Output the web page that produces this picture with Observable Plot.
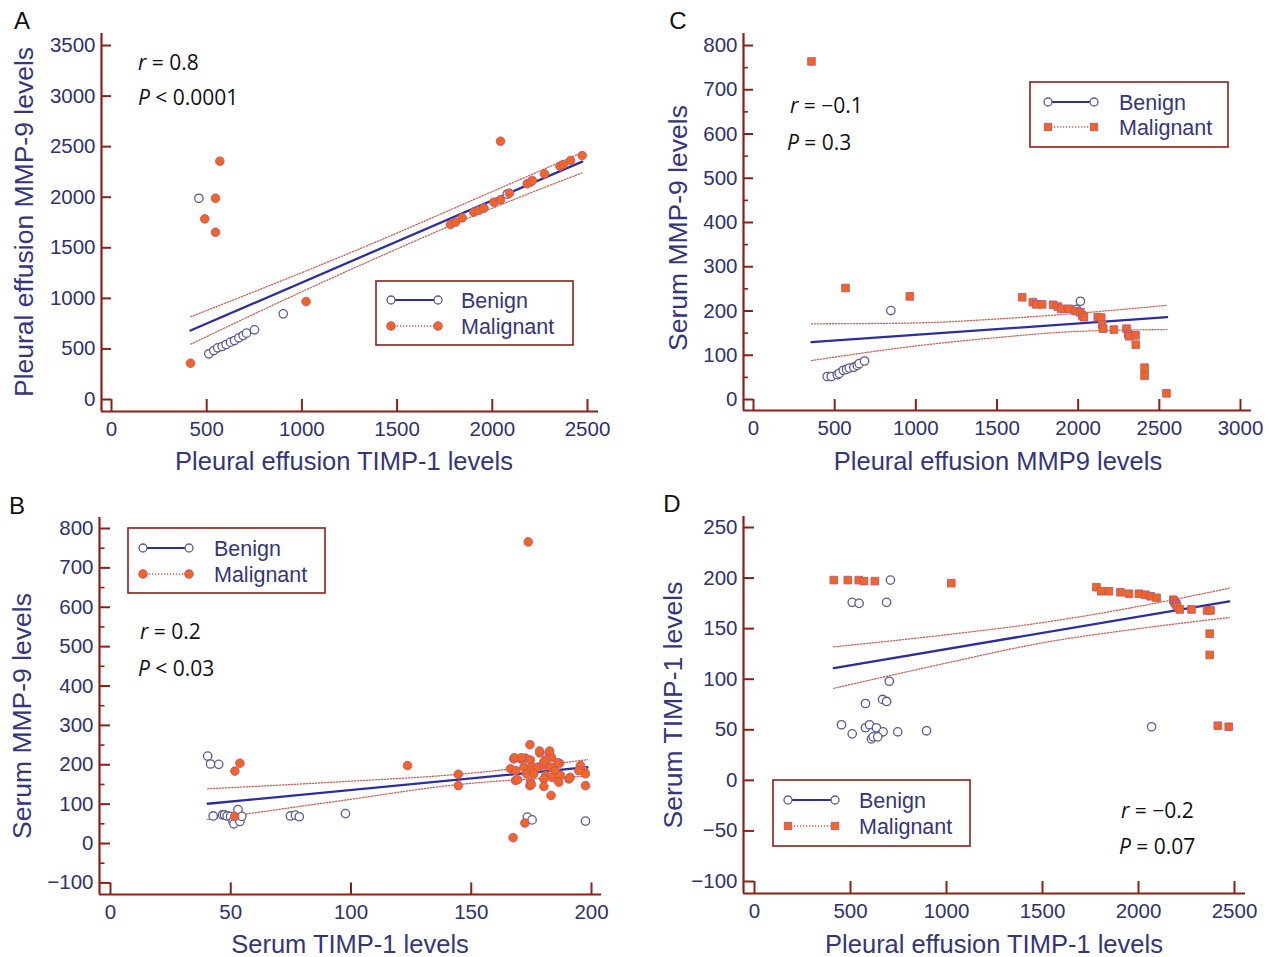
<!DOCTYPE html>
<html><head><meta charset="utf-8">
<script src="https://cdn.jsdelivr.net/npm/d3@7"></script>
<script src="https://cdn.jsdelivr.net/npm/@observablehq/plot@0.6"></script>
<style>
body{margin:0;background:#fff;}
#root{position:relative;width:1269px;height:957px;overflow:hidden;background:#fff;}
#root svg{position:absolute;}
</style></head><body><div id="root"></div>
<script>
// ---------- Panel A: Pleural effusion TIMP-1 vs Pleural effusion MMP-9 ----------
const aBenignX = [459, 511, 537, 558, 581, 602, 625, 646, 669, 691, 709, 751, 902, 2078];
const aBenignY = [1990, 452, 484, 511, 524, 544, 567, 583, 610, 633, 656, 689, 847, 2030];
const aMalignantX = [415, 569, 546, 490, 546, 1022, 2043, 1780, 1807, 1842, 1903, 1929, 1956, 2008, 2043, 2090, 2183, 2201, 2210, 2274, 2355, 2372, 2411, 2472];
const aMalignantY = [359, 2356, 1990, 1786, 1654, 969, 2554, 1730, 1753, 1796, 1852, 1869, 1892, 1951, 1974, 2040, 2133, 2149, 2165, 2231, 2307, 2323, 2363, 2412];
const aFitX = [415, 2472];
const aFitY = [682, 2352];
const aCiX = [417, 900, 1400, 1900, 2470];
const aCiUpper = [819, 1179, 1566, 1974, 2440];
const aCiLower = [547, 979, 1406, 1814, 2240];
const aXTicks = [0, 500, 1000, 1500, 2000, 2500];
const aYTicks = [0, 500, 1000, 1500, 2000, 2500, 3000, 3500];

// ---------- Panel C: Pleural effusion MMP9 vs Serum MMP-9 ----------
const cBenignX = [454, 479, 516, 528, 553, 573, 590, 618, 639, 651, 684, 846, 1990, 2014];
const cBenignY = [52, 52, 56, 59, 66, 68, 71, 73, 77, 81, 87, 201, 204, 222];
const cMalignantX = [357, 567, 963, 1655, 1721, 1742, 1778, 1846, 1875, 1896, 1942, 1984, 2014, 2025, 2035, 2121, 2142, 2148, 2154, 2220, 2298, 2308, 2314, 2353, 2355, 2409, 2409, 2544];
const cMalignantY = [764, 252, 233, 231, 220, 215, 215, 214, 210, 205, 205, 200, 197, 190, 186, 186, 185, 169, 160, 158, 160, 148, 143, 145, 124, 72, 54, 14];
const cFitX = [357, 2548];
const cFitY = [129.5, 186];
const cCiX = [357, 1000, 1500, 2000, 2548];
const cCiUpper = [171, 173, 182, 195, 213];
const cCiLower = [88, 121, 140, 154, 158];
const cXTicks = [0, 500, 1000, 1500, 2000, 2500, 3000];
const cYTicks = [0, 100, 200, 300, 400, 500, 600, 700, 800];
const cYMinor = [50, 150, 250, 350, 450, 550, 650, 750];

// ---------- Panel B: Serum TIMP-1 vs Serum MMP-9 ----------
const bBenignX = [40.4, 41.6, 45, 42.7, 46.6, 47.4, 48.5, 49.9, 50.9, 51.3, 53, 53.8, 54.6, 74.8, 76.9, 78.5, 97.7, 173.3, 175.3, 197.5];
const bBenignY = [222, 202, 201, 70, 73, 73, 70, 69, 56, 50, 86, 56, 69, 70, 72, 68, 76, 67, 60, 57];
const bMalignantX = [51.7, 53.8, 51.6, 123.5, 144.6, 144.6, 173.7, 167.4, 172.3,
  174.4, 167.7, 170.5, 172.6, 174.6, 178.5, 182.4, 183.4, 180.9, 186.7, 166.3, 168.5, 171.9, 175.3, 177.7, 180.2, 183, 184.9,
  173, 176, 181, 183.6, 187.1, 190.6, 168.4, 174.6, 180.2, 186.4, 174.4, 180.2, 183.2, 195.4, 196.8, 197.5, 197.5, 194.7,
  167.9, 170.8, 178.4, 182.6, 180.1, 186, 191.1, 175, 169.3];
const bMalignantY = [184, 204, 69, 198, 176, 147, 766, 15, 52,
  251, 215, 215, 217, 212, 230, 230, 219, 212, 204, 190, 185, 194, 194, 194, 198, 194, 185,
  177, 177, 173, 168, 173, 164, 160, 156, 164, 156, 147, 145, 122, 198, 185, 177, 147, 185,
  218, 218, 235, 235, 207, 205, 168, 150, 162];
const bFitX = [40.4, 198.3];
const bFitY = [101, 194];
const bCiX = [40.4, 96, 145, 198.3];
const bCiUpper = [139, 157, 176, 213];
const bCiLower = [61, 109, 150, 171];
const bXTicks = [0, 50, 100, 150, 200];
const bYTicks = [-100, 0, 100, 200, 300, 400, 500, 600, 700, 800];
const bYMinor = [-50, 50, 150, 250, 350, 450, 550, 650, 750];

// ---------- Panel D: Pleural effusion TIMP-1 vs Serum TIMP-1 ----------
const dBenignX = [708, 509, 545, 688, 702, 578, 667, 688, 453, 509, 578, 599, 635, 670, 609, 618, 642, 746, 896, 2068];
const dBenignY = [198, 176, 175, 176, 98, 76, 80, 78, 55, 46, 52, 55, 52, 48, 41, 43, 43, 48, 49, 53];
const dMalignantX = [413, 486, 543, 570, 627, 1025, 1781, 1806, 1846, 1906, 1950, 2002, 2036, 2063, 2094, 2181, 2186, 2193, 2197, 2201, 2215, 2276, 2357, 2375, 2371, 2371, 2413, 2470];
const dMalignantY = [198, 198, 198, 197, 197, 195, 191, 187, 187, 186, 184.5, 184.5, 183.5, 182, 180.5, 178.6, 177, 175, 174, 172, 169, 169, 168, 168, 145, 124, 54, 53];
const dFitX = [413, 2473];
const dFitY = [111, 177];
const dCiX = [413, 1000, 1500, 2000, 2473];
const dCiUpper = [132, 144, 156, 172, 190];
const dCiLower = [91, 116, 136, 150, 161];
const dXTicks = [0, 500, 1000, 1500, 2000, 2500];
const dYTicks = [-100, -50, 0, 50, 100, 150, 200, 250];

// ---------- styling ----------
const MAROON = "#8a2016";
const TICKTXT = "#303170";
const TITLE = "#34357c";
const ORANGE = "#f26522";
const ORANGE_STROKE = "#b4587a";
const BLUE = "#2b2e9c";
const CIRED = "#c4665a";
const CIDASH = "1.3,1.7";
const BENIGN_STROKE = "#5a5b94";
const FONT = "'Liberation Sans', Arial, Helvetica, sans-serif";

const panels = [
  {key: "A", left: 0, top: 0, w: 634, h: 478, xRef: [0, 111, 2500, 587], yRef: [0, 399, 3500, 45],
   axisX: 101, rightX: 598, axisY: 411, topY: 33, xTicks: aXTicks, yTicks: aYTicks, yMinor: [], square: false,
   bx: aBenignX, by: aBenignY, mx: aMalignantX, my: aMalignantY, fx: aFitX, fy: aFitY, cx: aCiX, cu: aCiUpper, cl: aCiLower},
  {key: "C", left: 634, top: 0, w: 635, h: 478, xRef: [0, 753, 3000, 1240], yRef: [0, 399, 800, 45],
   axisX: 743, rightX: 1251, axisY: 410, topY: 33, xTicks: cXTicks, yTicks: cYTicks, yMinor: cYMinor, square: true,
   bx: cBenignX, by: cBenignY, mx: cMalignantX, my: cMalignantY, fx: cFitX, fy: cFitY, cx: cCiX, cu: cCiUpper, cl: cCiLower},
  {key: "B", left: 0, top: 478, w: 634, h: 479, xRef: [0, 110, 200, 591], yRef: [-100, 882.4, 800, 528],
   axisX: 99, rightX: 601, axisY: 894, topY: 517, xTicks: bXTicks, yTicks: bYTicks, yMinor: bYMinor, square: false,
   bx: bBenignX, by: bBenignY, mx: bMalignantX, my: bMalignantY, fx: bFitX, fy: bFitY, cx: bCiX, cu: bCiUpper, cl: bCiLower},
  {key: "D", left: 634, top: 478, w: 635, h: 479, xRef: [0, 754, 2500, 1234], yRef: [-100, 881, 250, 527],
   axisX: 743, rightX: 1245, axisY: 893, topY: 516, xTicks: dXTicks, yTicks: dYTicks, yMinor: [], square: true,
   bx: dBenignX, by: dBenignY, mx: dMalignantX, my: dMalignantY, fx: dFitX, fy: dFitY, cx: dCiX, cu: dCiUpper, cl: dCiLower}
];

function lin(ref, px) { const [v0, p0, v1, p1] = ref; return v0 + (px - p0) * (v1 - v0) / (p1 - p0); }
const fmt = d => String(d).replace("-", "\u2212");

const root = document.getElementById("root");

for (const p of panels) {
  const xLo = lin(p.xRef, p.axisX), xHi = lin(p.xRef, p.rightX);
  const yLo = lin(p.yRef, p.axisY), yHi = lin(p.yRef, p.topY);
  const benign = p.bx.map((x, i) => ({x, y: p.by[i]}));
  const malignant = p.mx.map((x, i) => ({x, y: p.my[i]}));
  const fit = p.fx.map((x, i) => ({x, y: p.fy[i]}));
  const ciU = p.cx.map((x, i) => ({x, y: p.cu[i]}));
  const ciL = p.cx.map((x, i) => ({x, y: p.cl[i]}));
  const x0 = p.xTicks[0], y0 = p.yTicks[0];
  const chart = Plot.plot({
    width: p.w, height: p.h, margin: 0,
    style: {background: "transparent", fontFamily: FONT, overflow: "visible"},
    x: {domain: [xLo, xHi], range: [p.axisX - p.left, p.rightX - p.left], axis: null},
    y: {domain: [yLo, yHi], range: [p.axisY - p.top, p.topY - p.top], axis: null},
    marks: [
      Plot.ruleY(p.yMinor, {y: d => d, x1: () => xLo, x2: () => xLo + (x0 - xLo) * 0.5, stroke: MAROON, strokeWidth: 1.6}),
      Plot.ruleY(p.yTicks, {y: d => d, x1: () => xLo, x2: () => x0, stroke: MAROON, strokeWidth: 2}),
      Plot.ruleX(p.xTicks, {x: d => d, y1: () => yLo, y2: () => y0, stroke: MAROON, strokeWidth: 2}),
      Plot.ruleX([xLo], {x: d => d, y1: () => yLo, y2: () => yHi, stroke: MAROON, strokeWidth: 2.2}),
      Plot.ruleY([yLo], {y: d => d, x1: () => xLo, x2: () => xHi, stroke: MAROON, strokeWidth: 2.2}),
      Plot.text(p.xTicks, {x: d => d, y: () => yLo, dy: 10, lineAnchor: "top", text: fmt, fill: TICKTXT, fontSize: 20.5, fontFamily: FONT}),
      Plot.text(p.yTicks, {x: () => xLo, y: d => d, dx: -6, textAnchor: "end", lineAnchor: "middle", text: fmt, fill: TICKTXT, fontSize: 20.5, fontFamily: FONT}),
      Plot.line(ciU, {x: "x", y: "y", curve: "monotone-x", stroke: CIRED, strokeWidth: 1.3, strokeDasharray: CIDASH}),
      Plot.line(ciL, {x: "x", y: "y", curve: "monotone-x", stroke: CIRED, strokeWidth: 1.3, strokeDasharray: CIDASH}),
      Plot.line(fit, {x: "x", y: "y", stroke: BLUE, strokeWidth: 2.3}),
      Plot.dot(benign, {x: "x", y: "y", r: 4.2, fill: "white", stroke: BENIGN_STROKE, strokeWidth: 1.3}),
      Plot.dot(malignant, {x: "x", y: "y", r: 4.3, symbol: p.square ? "square" : "circle", fill: ORANGE, stroke: ORANGE_STROKE, strokeWidth: 0.9})
    ]
  });
  chart.style.left = p.left + "px";
  chart.style.top = p.top + "px";
  root.appendChild(chart);
}

// ---------- overlay: titles, panel letters, statistics, legends ----------
const titles = [
  {t: "Pleural effusion TIMP-1 levels", x: 344, y: 461, rot: false},
  {t: "Pleural effusion MMP-9 levels", x: 24, y: 222, rot: true},
  {t: "Pleural effusion MMP9 levels", x: 998, y: 461, rot: false},
  {t: "Serum MMP-9 levels", x: 678, y: 228, rot: true},
  {t: "Serum TIMP-1 levels", x: 350, y: 944, rot: false},
  {t: "Serum MMP-9 levels", x: 22, y: 716, rot: true},
  {t: "Pleural effusion TIMP-1 levels", x: 994, y: 944, rot: false},
  {t: "Serum TIMP-1 levels", x: 673, y: 705, rot: true}
];
const letters = [{t: "A", x: 22, y: 20}, {t: "B", x: 17, y: 505}, {t: "C", x: 678, y: 20}, {t: "D", x: 672, y: 503}];
const statsR = ["0.8", "\u22120.1", "0.2", "\u22120.2"];
const statsP = ["< 0.0001", "= 0.3", "< 0.03", "= 0.07"];
const statsPos = [[138, 62, 138, 97], [790, 105, 787, 142], [140, 631, 138, 668], [1121, 810, 1119, 846]];
const legends = [
  {box: [376, 281, 573, 345], rows: [300, 326], mx: [391, 438], tx: 461, square: false},
  {box: [1030, 82, 1228, 147], rows: [102, 127], mx: [1048, 1094], tx: 1119, square: true},
  {box: [128, 528, 325, 593], rows: [548, 574], mx: [143, 189], tx: 214, square: false},
  {box: [773, 780, 970, 846], rows: [800, 826], mx: [788, 835], tx: 859, square: true}
];
const legendLabels = ["Benign", "Malignant"];

const ov = d3.select(root).append("svg").attr("width", 1269).attr("height", 957)
  .style("left", "0px").style("top", "0px").style("pointer-events", "none");

for (const t of titles) {
  const fs = t.rot ? 26.5 : 25.5;
  const g = ov.append("text").attr("font-family", FONT).attr("font-size", fs).attr("fill", TITLE)
    .attr("text-anchor", "middle").text(t.t);
  if (t.rot) g.attr("transform", `translate(${t.x + 0.35 * fs},${t.y}) rotate(-90)`);
  else g.attr("x", t.x).attr("y", t.y + 0.36 * fs);
}
for (const l of letters) {
  ov.append("text").attr("font-family", FONT).attr("font-size", 24).attr("fill", "#111")
    .attr("text-anchor", "middle").attr("x", l.x).attr("y", l.y + 0.36 * 24).text(l.t);
}
statsPos.forEach((s, i) => {
  const fs = 21;
  const t1 = ov.append("text").attr("font-family", "'Open Sans', 'Liberation Sans', sans-serif").attr("font-size", fs)
    .attr("fill", "#111").attr("x", s[0]).attr("y", s[1] + 0.36 * fs);
  t1.append("tspan").attr("font-style", "italic").text("r");
  t1.append("tspan").text(" = " + statsR[i]);
  const t2 = ov.append("text").attr("font-family", "'Open Sans', 'Liberation Sans', sans-serif").attr("font-size", fs)
    .attr("fill", "#111").attr("x", s[2]).attr("y", s[3] + 0.36 * fs);
  t2.append("tspan").attr("font-style", "italic").text("P");
  t2.append("tspan").text(" " + statsP[i]);
});
for (const L of legends) {
  const [x0, y0, x1, y1] = L.box;
  ov.append("rect").attr("x", x0).attr("y", y0).attr("width", x1 - x0).attr("height", y1 - y0)
    .attr("fill", "white").attr("stroke", MAROON).attr("stroke-width", 1.6);
  const r0 = L.rows[0];
  ov.append("line").attr("x1", L.mx[0]).attr("x2", L.mx[1]).attr("y1", r0).attr("y2", r0).attr("stroke", BLUE).attr("stroke-width", 1.8);
  for (const mx of L.mx) ov.append("circle").attr("cx", mx).attr("cy", r0).attr("r", 4).attr("fill", "white").attr("stroke", BENIGN_STROKE).attr("stroke-width", 1.3);
  const r1 = L.rows[1];
  ov.append("line").attr("x1", L.mx[0]).attr("x2", L.mx[1]).attr("y1", r1).attr("y2", r1).attr("stroke", CIRED).attr("stroke-width", 1.3).attr("stroke-dasharray", CIDASH);
  for (const mx of L.mx) {
    if (L.square) ov.append("rect").attr("x", mx - 3.7).attr("y", r1 - 3.7).attr("width", 7.4).attr("height", 7.4).attr("fill", ORANGE).attr("stroke", ORANGE_STROKE).attr("stroke-width", 0.9);
    else ov.append("circle").attr("cx", mx).attr("cy", r1).attr("r", 4.3).attr("fill", ORANGE).attr("stroke", ORANGE_STROKE).attr("stroke-width", 0.9);
  }
  L.rows.forEach((ry, i) => {
    ov.append("text").attr("font-family", FONT).attr("font-size", 21.5).attr("fill", TITLE)
      .attr("x", L.tx).attr("y", ry + 0.36 * 21.5).text(legendLabels[i]);
  });
}
</script>
</body></html>
